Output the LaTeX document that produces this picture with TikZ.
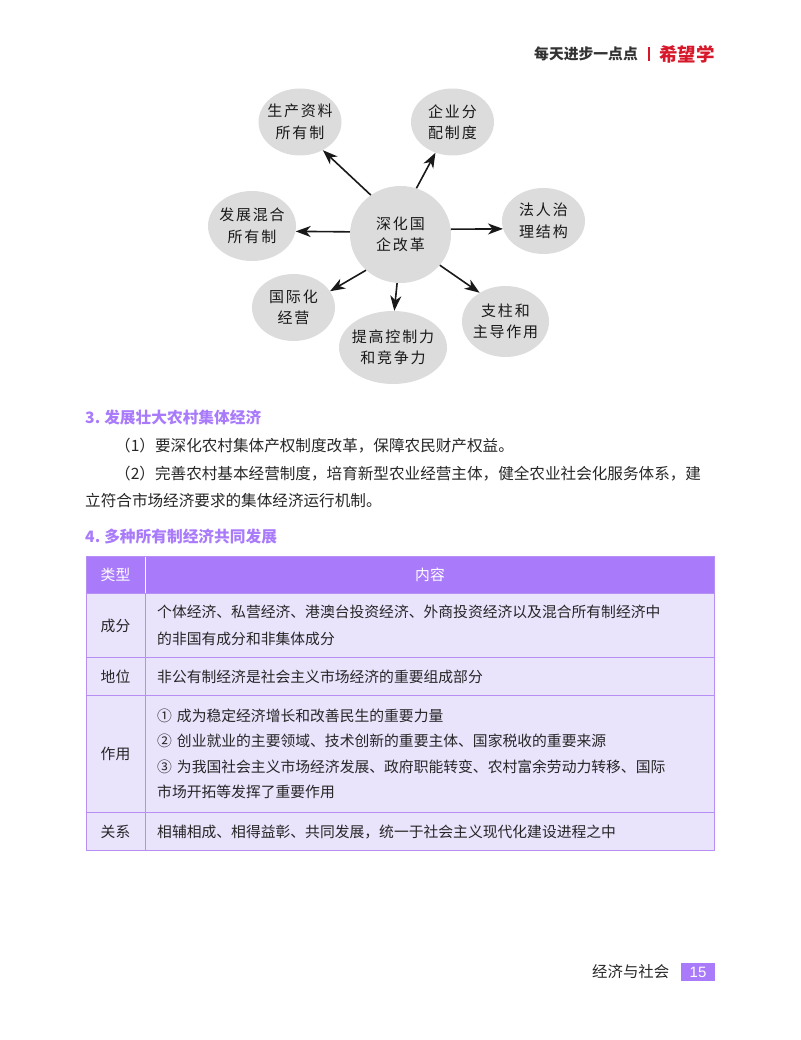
\documentclass[tikz,border=0pt]{standalone}
\usepackage{fontspec}
\usepackage{xcolor}
\usetikzlibrary{shapes.geometric,arrows.meta}
\setmainfont{Noto Sans CJK SC}
\newfontfamily\looseface[LetterSpace=12]{Noto Sans CJK SC}
\newfontfamily\numface{Liberation Sans}
\definecolor{bubblegray}{HTML}{DCDCDC}
\definecolor{headviolet}{HTML}{A97BFB}
\definecolor{cellviolet}{HTML}{EAE3FC}
\definecolor{ruleviolet}{HTML}{B78EF3}
\definecolor{markred}{HTML}{D7182A}
\tikzset{
  bubble/.style={ellipse,fill=bubblegray,inner xsep=-20pt,inner ysep=-12pt,align=center,text=black!90,
    font=\looseface\fontsize{15}{21.5}\selectfont},
  spoke/.style={line width=1.6pt,color=black!90,-{Stealth[length=15pt,width=11pt,inset=4.5pt]}},
  headline/.style={anchor=west,inner sep=0pt,text=headviolet,font=\bfseries\fontsize{15.7}{17}\selectfont},
  passage/.style={anchor=west,inner sep=0pt,text=black!85,font=\fontsize{15.6}{17}\selectfont},
  bodyline/.style={anchor=west,inner sep=0pt,text=black!85,font=\fontsize{14.8}{16}\selectfont},
  celllabel/.style={text=black!85,font=\fontsize{14.8}{16}\selectfont},
  headlabel/.style={text=white,font=\fontsize{14.8}{16}\selectfont},
  gridline/.style={ruleviolet,line width=1pt}
}
\begin{document}
\begin{tikzpicture}[x=1pt,y=-1pt]
\useasboundingbox (0,0) rectangle (800,1040);
% 页眉
\node[anchor=west,inner sep=0pt,text=black!80,font=\bfseries\fontsize{14.8}{16}\selectfont] (motto) at (534,54) {每天进步一点点};
\node[anchor=west,inner sep=0pt,text=markred,font=\bfseries\fontsize{18.5}{20}\selectfont] (brand) at (659,54) {希望学};
\fill[markred] (648,47) rectangle (649.5,61);
% 节点定义
\node[bubble,minimum width=101pt,minimum height=97pt] (hub) at (400.5,234.5) {深化国\\企改革};
\node[bubble,minimum width=83pt,minimum height=67pt] (owner) at (300,122) {生产资料\\所有制};
\node[bubble,minimum width=83pt,minimum height=67pt] (alloc) at (452.5,122) {企业分\\配制度};
\node[bubble,minimum width=83pt,minimum height=66pt] (gov) at (543.5,221) {法人治\\理结构};
\node[bubble,minimum width=88pt,minimum height=70pt] (mixed) at (252,226) {发展混合\\所有制};
\node[bubble,minimum width=83pt,minimum height=67pt] (intl) at (293.5,307.5) {国际化\\经营};
\node[bubble,minimum width=108pt,minimum height=73pt] (power) at (393,347.5) {提高控制力\\和竞争力};
\node[bubble,minimum width=87pt,minimum height=71pt] (pillar) at (505.5,321.5) {支柱和\\主导作用};
% 连线
\draw[spoke] (hub.127)--(owner.309);
\draw[spoke] (hub.71)--(alloc.241);
\draw[spoke] (hub.6)--(gov.191);
\draw[spoke] (hub.177)--(mixed.353);
\draw[spoke] (hub.226)--(intl.24);
\draw[spoke] (hub.266)--(power.88);
\draw[spoke] (hub.322)--(pillar.132);
% 正文
\node[headline] (headthree) at (85,418) {3.\hspace{4pt}发展壮大农村集体经济};
\node[passage] (lineone) at (115,446) {（1）要深化农村集体产权制度改革，保障农民财产权益。};
\node[passage] (linetwo) at (115,474) {（2）完善农村基本经营制度，培育新型农业经营主体，健全农业社会化服务体系，建};
\node[passage] (linethree) at (85,501) {立符合市场经济要求的集体经济运行机制。};
\node[headline] (headfour) at (85,537) {4.\hspace{4pt}多种所有制经济共同发展};
% 表格
\fill[headviolet] (86,556) rectangle (714,593);
\fill[cellviolet] (86,593) rectangle (714,850);
\draw[white,line width=1pt] (145.5,556)--(145.5,593);
\draw[gridline] (86,556) rectangle (714,850);
\draw[gridline] (145.5,593)--(145.5,850);
\draw[gridline] (86,593)--(714,593);
\draw[gridline] (86,657.5)--(714,657.5);
\draw[gridline] (86,695.5)--(714,695.5);
\draw[gridline] (86,812)--(714,812);
\node[headlabel] (typehead) at (115.5,575) {类型};
\node[headlabel] (contenthead) at (430,575) {内容};
\node[celllabel] (partlabel) at (115.5,625.5) {成分};
\node[celllabel] (rolelabel) at (115.5,677) {地位};
\node[celllabel] (uselabel) at (115.5,754) {作用};
\node[celllabel] (linklabel) at (115.5,832) {关系};
\node[bodyline] (partone) at (157,612) {个体经济、私营经济、港澳台投资经济、外商投资经济以及混合所有制经济中};
\node[bodyline] (parttwo) at (157,639) {的非国有成分和非集体成分};
\node[bodyline] (roleone) at (157,677) {非公有制经济是社会主义市场经济的重要组成部分};
\node[bodyline] (useone) at (157,716) {①\hspace{5pt}成为稳定经济增长和改善民生的重要力量};
\node[bodyline] (usetwo) at (157,741) {②\hspace{5pt}创业就业的主要领域、技术创新的重要主体、国家税收的重要来源};
\node[bodyline] (usethree) at (157,767) {③\hspace{5pt}为我国社会主义市场经济发展、政府职能转变、农村富余劳动力转移、国际};
\node[bodyline] (usefour) at (157,792) {市场开拓等发挥了重要作用};
\node[bodyline] (linkone) at (157,832) {相辅相成、相得益彰、共同发展，统一于社会主义现代化建设进程之中};
% 页脚
\node[anchor=west,inner sep=0pt,text=black!85,font=\fontsize{15.4}{16}\selectfont] (subject) at (592,972) {经济与社会};
\node[fill=headviolet,text=white,minimum width=34pt,minimum height=18pt,inner sep=0pt,font=\numface\fontsize{15}{16}\selectfont] (pagenum) at (698,972) {15};
\end{tikzpicture}
\end{document}
